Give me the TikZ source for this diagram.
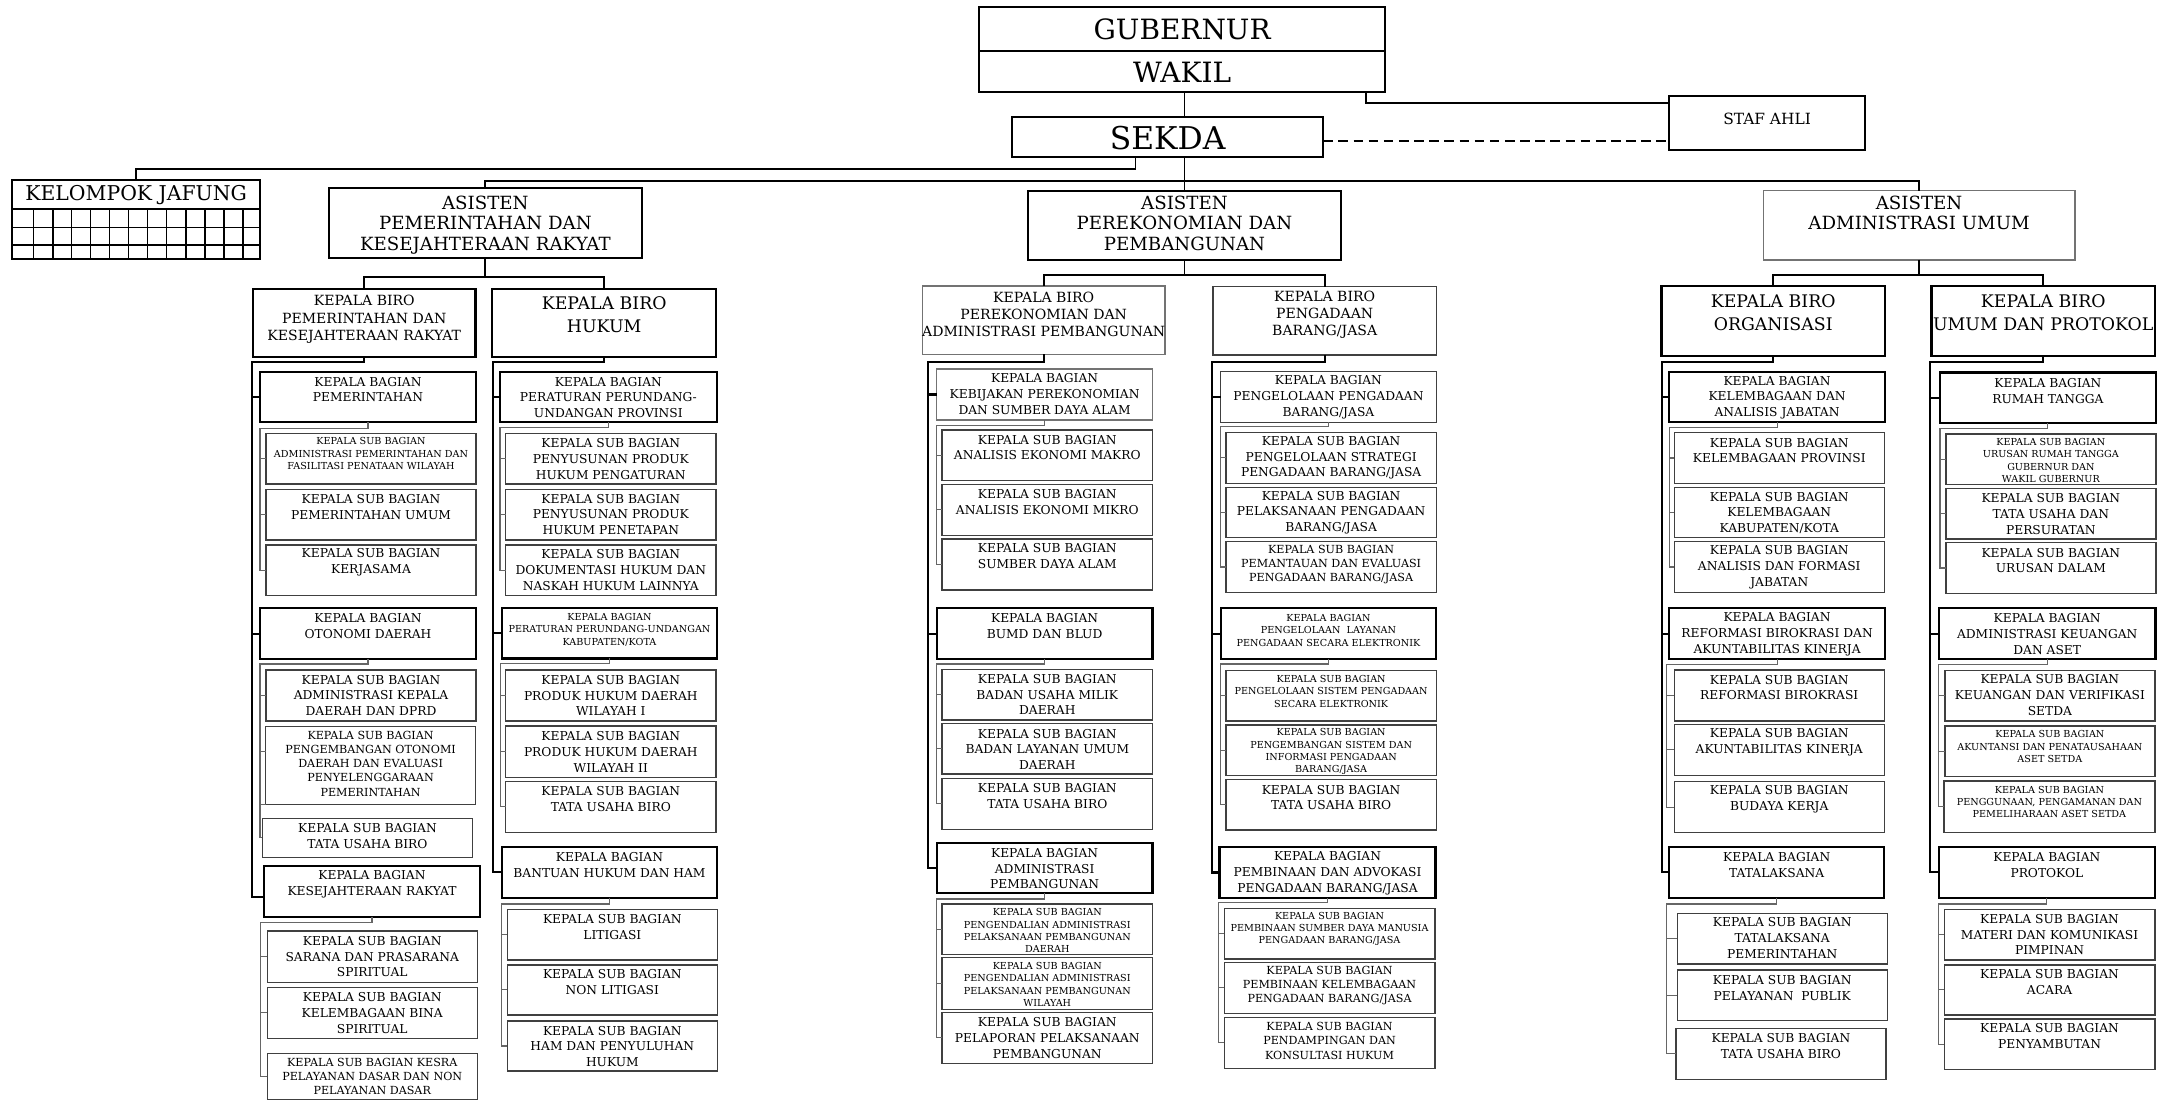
\documentclass[tikz,border=0pt]{standalone}
\usepackage{fontspec}
\setmainfont{DejaVu Serif}
\usetikzlibrary{calc}
\newcommand\fsS{\fontsize{8.9}{11.4}\selectfont}
\newcommand\fsT{\fontsize{7.0}{9.0}\selectfont}
\newcommand\fsM{\fontsize{8.1}{10.3}\selectfont}
\newcommand\fsB{\fontsize{10.2}{12.6}\selectfont}
\newcommand\fsL{\fontsize{12.6}{16.8}\selectfont}
\newcommand\fsA{\fontsize{13.2}{14.9}\selectfont}
\newcommand\fsG{\fontsize{20.3}{21}\selectfont}
\newcommand\fsK{\fontsize{22.8}{23}\selectfont}
\newcommand\fsJ{\fontsize{14.8}{16}\selectfont}
\newcommand\fsF{\fontsize{11.2}{12}\selectfont}
\newcommand\mybox[9]{%
  \node[#1, anchor=north west, minimum width={(#5)-(#3)}, minimum height={(#6)-(#4)}] (#2) at (#3,#4) {};
  \node[#7] (#2t) at ({((#3)+(#5))/2},#8) {#9};}
\newcommand\myconn[4]{\draw[#1] (#2.south) -- (#2.south |- #3) -- (#3) -- (#3 |- #4.west) -- (#4.west);}
\newcommand\mytick[3]{\draw[#1] (#2 |- #3.west) -- (#3.west);}
\tikzset{
  bK/.style={draw=black, line width=1.6pt, inner sep=0pt, outer sep=0pt},
  bT/.style={draw=black!75, line width=1pt, inner sep=0pt, outer sep=0pt},
  bG/.style={draw=black!55, line width=1pt, inner sep=0pt, outer sep=0pt},
  txt/.style={align=center, inner sep=0pt, outer sep=0pt, text=black},
  tS/.style={txt, font=\fsS}, tT/.style={txt, font=\fsT}, tM/.style={txt, font=\fsM},
  tB/.style={txt, font=\fsB}, tL/.style={txt, font=\fsL}, tA/.style={txt, font=\fsA},
  tG/.style={txt, font=\fsG}, tK/.style={txt, font=\fsK}, tJ/.style={txt, font=\fsJ},
  tF/.style={txt, font=\fsF},
  lnTop/.style={line width=1.3pt, black},
  lnSp/.style={line width=1.5pt, black},
  lnSub/.style={line width=0.8pt, black!60},
}
\begin{document}
\begin{tikzpicture}[x=1pt,y=-1pt]
\useasboundingbox (0,0) rectangle (1568,799);
% ---------- top ----------
\mybox{bK}{gub}{711}{5.3}{1006}{37}{tG}{21.5}{GUBERNUR}
\mybox{bK}{wakil}{711}{37}{1006}{67}{tG}{52.5}{WAKIL}
\mybox{bK}{sekda}{735}{85.2}{961}{113.8}{tK}{100}{SEKDA}
\mybox{bK}{staf}{1212}{69.5}{1354.7}{108.9}{tF}{86}{STAF AHLI}
\mybox{bK}{jafung}{8.8}{130.7}{189}{188.3}{tJ}{141.6}{KELOMPOK JAFUNG}
\draw[line width=1.2pt] (8.8,152) -- (189,152) (8.8,165.3) -- (189,165.3) (8.8,178) -- (189,178);
\foreach \gx in {24.3,38.3,51.9,65.8,79.4,93.4,107,120.9,134.9,149.1,162.7,176.7}
  \draw[line width=1.2pt] (\gx,152) -- (\gx,188.3);
\mybox{bK}{asPK}{239}{136.3}{466}{187.6}{tA}{163.5}{ASISTEN\\PEMERINTAHAN DAN\\KESEJAHTERAAN RAKYAT}
\mybox{bK}{asPP}{746.5}{138.5}{973.9}{188.8}{tA}{162.2}{ASISTEN\\PEREKONOMIAN DAN\\PEMBANGUNAN}
\mybox{bG}{asAU}{1280.6}{138.5}{1506.9}{188.8}{tA}{154.6}{ASISTEN\\ADMINISTRASI UMUM}
% ---------- biro ----------
\mybox{bK}{bPK}{183.8}{210}{345.3}{259}{tB}{232}{KEPALA BIRO\\PEMERINTAHAN DAN\\KESEJAHTERAAN RAKYAT}
\mybox{bK}{bHK}{357.6}{210}{520}{259}{tL}{228.3}{KEPALA BIRO\\HUKUM}
\mybox{bG}{bPE}{669.9}{207.7}{846.1}{257.3}{tB}{228.3}{KEPALA BIRO\\PEREKONOMIAN DAN\\ADMINISTRASI PEMBANGUNAN}
\mybox{bT}{bPB}{881}{208.2}{1043.1}{257.8}{tB}{228.5}{KEPALA BIRO\\PENGADAAN\\BARANG/JASA}
\mybox{bK}{bOR}{1206.7}{207.7}{1368.9}{258.5}{tL}{227}{KEPALA BIRO\\ORGANISASI}
\mybox{bK}{bUM}{1402.8}{207.7}{1565}{258.5}{tL}{227}{KEPALA BIRO\\UMUM DAN PROTOKOL}
% ---------- Pemerintahan & Kesra ----------
\mybox{bK}{pA}{188.8}{269.9}{345.7}{306.7}{tS}{282.9}{KEPALA BAGIAN\\PEMERINTAHAN}
\mybox{bT}{pA1}{193.2}{314.7}{345.7}{351.5}{tT}{329.4}{KEPALA SUB BAGIAN\\ADMINISTRASI PEMERINTAHAN DAN\\FASILITASI PENATAAN WILAYAH}
\mybox{bT}{pA2}{193.2}{355.4}{345.7}{392.2}{tS}{368}{KEPALA SUB BAGIAN\\PEMERINTAHAN UMUM}
\mybox{bT}{pA3}{193.2}{395.8}{345.7}{432.6}{tS}{408.3}{KEPALA SUB BAGIAN\\KERJASAMA}
\mybox{bK}{pB}{188.8}{441.8}{345.7}{478.6}{tS}{454.9}{KEPALA BAGIAN\\OTONOMI DAERAH}
\mybox{bT}{pB1}{193.2}{486.6}{345.7}{523.6}{tS}{505.1}{KEPALA SUB BAGIAN\\ADMINISTRASI KEPALA\\DAERAH DAN DPRD}
\mybox{bT}{pB2}{192.9}{527.7}{345.4}{584.1}{tM}{554.6}{KEPALA SUB BAGIAN\\PENGEMBANGAN OTONOMI\\DAERAH DAN EVALUASI\\PENYELENGGARAAN\\PEMERINTAHAN}
\mybox{bT}{pB3}{190.5}{594.3}{343.3}{622.6}{tS}{607}{KEPALA SUB BAGIAN\\TATA USAHA BIRO}
\mybox{bK}{pC}{191.7}{628.7}{348.6}{665.7}{tS}{642.1}{KEPALA BAGIAN\\KESEJAHTERAAN RAKYAT}
\mybox{bT}{pC1}{194.1}{676.1}{346.6}{713.4}{tS}{694.8}{KEPALA SUB BAGIAN\\SARANA DAN PRASARANA\\SPIRITUAL}
\mybox{bT}{pC2}{194.1}{717}{346.6}{754.1}{tS}{735.7}{KEPALA SUB BAGIAN\\KELEMBAGAAN BINA\\SPIRITUAL}
\mybox{bT}{pC3}{194.1}{765}{346.6}{798.3}{tM}{781.8}{KEPALA SUB BAGIAN KESRA\\PELAYANAN DASAR DAN NON\\PELAYANAN DASAR}
% ---------- Hukum ----------
\mybox{bK}{hA}{363.1}{269.9}{520.5}{306.7}{tS}{288.7}{KEPALA BAGIAN\\PERATURAN PERUNDANG-\\UNDANGAN PROVINSI}
\mybox{bT}{hA1}{367.2}{314.7}{520}{351.5}{tS}{333.3}{KEPALA SUB BAGIAN\\PENYUSUNAN PRODUK\\HUKUM PENGATURAN}
\mybox{bT}{hA2}{367.2}{355.4}{520}{392.2}{tS}{373.6}{KEPALA SUB BAGIAN\\PENYUSUNAN PRODUK\\HUKUM PENETAPAN}
\mybox{bT}{hA3}{367.2}{395.8}{520}{432.6}{tS}{414}{KEPALA SUB BAGIAN\\DOKUMENTASI HUKUM DAN\\NASKAH HUKUM LAINNYA}
\mybox{bK}{hB}{364.3}{441.8}{521}{478.2}{tT}{457.2}{KEPALA BAGIAN\\PERATURAN PERUNDANG-UNDANGAN\\KABUPATEN/KOTA}
\mybox{bT}{hB1}{367.2}{486.6}{520}{523.6}{tS}{505.1}{KEPALA SUB BAGIAN\\PRODUK HUKUM DAERAH\\WILAYAH I}
\mybox{bT}{hB2}{367.2}{527.2}{520}{564.5}{tS}{546.1}{KEPALA SUB BAGIAN\\PRODUK HUKUM DAERAH\\WILAYAH II}
\mybox{bT}{hB3}{367.2}{567.7}{520}{604.4}{tS}{580.3}{KEPALA SUB BAGIAN\\TATA USAHA BIRO}
\mybox{bK}{hC}{364.3}{614.9}{521}{651.9}{tS}{628.4}{KEPALA BAGIAN\\BANTUAN HUKUM DAN HAM}
\mybox{bT}{hC1}{368.4}{660.4}{521}{697.2}{tS}{673.3}{KEPALA SUB BAGIAN\\LITIGASI}
\mybox{bT}{hC2}{368.4}{700.8}{521}{737.1}{tS}{713.3}{KEPALA SUB BAGIAN\\NON LITIGASI}
\mybox{bT}{hC3}{368.4}{741.5}{521}{777.8}{tS}{760}{KEPALA SUB BAGIAN\\HAM DAN PENYULUHAN\\HUKUM}
% ---------- Perekonomian ----------
\mybox{bG}{eA}{680.3}{268}{837}{305}{tS}{286.2}{KEPALA BAGIAN\\KEBIJAKAN PEREKONOMIAN\\DAN SUMBER DAYA ALAM}
\mybox{bT}{eA1}{684.2}{312.3}{837}{349.1}{tS}{325}{KEPALA SUB BAGIAN\\ANALISIS EKONOMI MAKRO}
\mybox{bT}{eA2}{684.2}{351.7}{837}{389}{tS}{364.7}{KEPALA SUB BAGIAN\\ANALISIS EKONOMI MIKRO}
\mybox{bT}{eA3}{684.2}{391.4}{837}{428.5}{tS}{404}{KEPALA SUB BAGIAN\\SUMBER DAYA ALAM}
\mybox{bK}{eB}{680.3}{441.8}{837}{478.8}{tS}{454.9}{KEPALA BAGIAN\\BUMD DAN BLUD}
\mybox{bT}{eB1}{684.2}{486.1}{837}{522.9}{tS}{504.5}{KEPALA SUB BAGIAN\\BADAN USAHA MILIK\\DAERAH}
\mybox{bT}{eB2}{684.2}{525.3}{837}{562.1}{tS}{544.1}{KEPALA SUB BAGIAN\\BADAN LAYANAN UMUM\\DAERAH}
\mybox{bT}{eB3}{684.2}{565.2}{837}{602.3}{tS}{578}{KEPALA SUB BAGIAN\\TATA USAHA BIRO}
\mybox{bK}{eC}{680.3}{612}{837}{648.8}{tS}{631}{KEPALA BAGIAN\\ADMINISTRASI\\PEMBANGUNAN}
\mybox{bT}{eC1}{684.2}{656.5}{837}{693}{tT}{676}{KEPALA SUB BAGIAN\\PENGENDALIAN ADMINISTRASI\\PELAKSANAAN PEMBANGUNAN\\DAERAH}
\mybox{bT}{eC2}{684.2}{695.5}{837}{733}{tT}{715}{KEPALA SUB BAGIAN\\PENGENDALIAN ADMINISTRASI\\PELAKSANAAN PEMBANGUNAN\\WILAYAH}
\mybox{bT}{eC3}{684.2}{735.2}{837}{772.2}{tS}{754}{KEPALA SUB BAGIAN\\PELAPORAN PELAKSANAAN\\PEMBANGUNAN}
% ---------- Pengadaan ----------
\mybox{bT}{gA}{886.5}{269.9}{1043.1}{306.7}{tS}{288.4}{KEPALA BAGIAN\\PENGELOLAAN PENGADAAN\\BARANG/JASA}
\mybox{bT}{gA1}{890.4}{314}{1043.1}{351}{tS}{332.6}{KEPALA SUB BAGIAN\\PENGELOLAAN STRATEGI\\PENGADAAN BARANG/JASA}
\mybox{bT}{gA2}{890.4}{353.9}{1043.1}{390.5}{tS}{372.3}{KEPALA SUB BAGIAN\\PELAKSANAAN PENGADAAN\\BARANG/JASA}
\mybox{bT}{gA3}{890.4}{393.4}{1043.1}{430.2}{tM}{410}{KEPALA SUB BAGIAN\\PEMANTAUAN DAN EVALUASI\\PENGADAAN BARANG/JASA}
\mybox{bK}{gB}{886.5}{441.8}{1043.1}{478.8}{tT}{457.8}{KEPALA BAGIAN\\PENGELOLAAN\ \ LAYANAN\\PENGADAAN SECARA ELEKTRONIK}
\mybox{bT}{gB1}{890.4}{487.1}{1043.1}{523.6}{tT}{502.1}{KEPALA SUB BAGIAN\\PENGELOLAAN SISTEM PENGADAAN\\SECARA ELEKTRONIK}
\mybox{bT}{gB2}{890.4}{526.5}{1043.1}{563.3}{tT}{545.9}{KEPALA SUB BAGIAN\\PENGEMBANGAN SISTEM DAN\\INFORMASI PENGADAAN\\BARANG/JASA}
\mybox{bT}{gB3}{890.4}{566}{1043.1}{602.8}{tS}{579.2}{KEPALA SUB BAGIAN\\TATA USAHA BIRO}
\mybox{bK}{gC}{885.7}{614.9}{1042.6}{652.4}{tS}{634.2}{KEPALA BAGIAN\\PEMBINAAN DAN ADVOKASI\\PENGADAAN BARANG/JASA}
\mybox{bT}{gC1}{889.1}{659.7}{1042.1}{696.5}{tT}{674.7}{KEPALA SUB BAGIAN\\PEMBINAAN SUMBER DAYA MANUSIA\\PENGADAAN BARANG/JASA}
\mybox{bT}{gC2}{889.1}{698.9}{1042.1}{735.9}{tM}{715.7}{KEPALA SUB BAGIAN\\PEMBINAAN KELEMBAGAAN\\PENGADAAN BARANG/JASA}
\mybox{bT}{gC3}{889.1}{738.8}{1042.1}{775.8}{tM}{755.9}{KEPALA SUB BAGIAN\\PENDAMPINGAN DAN\\KONSULTASI HUKUM}
% ---------- Organisasi ----------
\mybox{bK}{oA}{1212.3}{269.9}{1368.9}{306.7}{tS}{288.7}{KEPALA BAGIAN\\KELEMBAGAAN DAN\\ANALISIS JABATAN}
\mybox{bT}{oA1}{1216}{314.2}{1368.4}{351}{tS}{327.2}{KEPALA SUB BAGIAN\\KELEMBAGAAN PROVINSI}
\mybox{bT}{oA2}{1216}{353.9}{1368.4}{390.5}{tS}{372.4}{KEPALA SUB BAGIAN\\KELEMBAGAAN\\KABUPATEN/KOTA}
\mybox{bT}{oA3}{1216}{393.4}{1368.4}{430.2}{tS}{411.9}{KEPALA SUB BAGIAN\\ANALISIS DAN FORMASI\\JABATAN}
\mybox{bK}{oB}{1212.3}{441.8}{1368.9}{478.6}{tS}{460.6}{KEPALA BAGIAN\\REFORMASI BIROKRASI DAN\\AKUNTABILITAS KINERJA}
\mybox{bT}{oB1}{1216}{486.6}{1368.4}{523.6}{tS}{499.3}{KEPALA SUB BAGIAN\\REFORMASI BIROKRASI}
\mybox{bT}{oB2}{1216}{526}{1368.4}{563.3}{tS}{539}{KEPALA SUB BAGIAN\\AKUNTABILITAS KINERJA}
\mybox{bT}{oB3}{1216}{567.7}{1368.4}{604.7}{tS}{580.3}{KEPALA SUB BAGIAN\\BUDAYA KERJA}
\mybox{bK}{oC}{1212.3}{614.9}{1368.4}{651.9}{tS}{628.4}{KEPALA BAGIAN\\TATALAKSANA}
\mybox{bT}{oC1}{1218.1}{663.3}{1370.6}{700.1}{tS}{681.2}{KEPALA SUB BAGIAN\\TATALAKSANA\\PEMERINTAHAN}
\mybox{bT}{oC2}{1218.1}{704.4}{1370.6}{741.2}{tS}{717.4}{KEPALA SUB BAGIAN\\PELAYANAN\ \ PUBLIK}
\mybox{bT}{oC3}{1217.1}{746.8}{1369.7}{783.8}{tS}{759.6}{KEPALA SUB BAGIAN\\TATA USAHA BIRO}
% ---------- Umum dan Protokol ----------
\mybox{bK}{uA}{1408.9}{270.6}{1565.7}{307.4}{tS}{283.9}{KEPALA BAGIAN\\RUMAH TANGGA}
\mybox{bT}{uA1}{1413.2}{315.2}{1565.7}{351.7}{tT}{334.4}{KEPALA SUB BAGIAN\\URUSAN RUMAH TANGGA\\GUBERNUR DAN\\WAKIL GUBERNUR}
\mybox{bT}{uA2}{1413.2}{354.6}{1565.7}{391.4}{tS}{373.2}{KEPALA SUB BAGIAN\\TATA USAHA DAN\\PERSURATAN}
\mybox{bT}{uA3}{1413.2}{394.1}{1565.7}{430.9}{tS}{407}{KEPALA SUB BAGIAN\\URUSAN DALAM}
\mybox{bK}{uB}{1408.1}{441.8}{1565.5}{478.6}{tS}{460.6}{KEPALA BAGIAN\\ADMINISTRASI KEUANGAN\\DAN ASET}
\mybox{bT}{uB1}{1412.5}{487.1}{1565}{523.6}{tS}{504.8}{KEPALA SUB BAGIAN\\KEUANGAN DAN VERIFIKASI\\SETDA}
\mybox{bT}{uB2}{1412.5}{527.2}{1565}{564}{tT}{542.4}{KEPALA SUB BAGIAN\\AKUNTANSI DAN PENATAUSAHAAN\\ASET SETDA}
\mybox{bT}{uB3}{1411.8}{567.2}{1565}{604.4}{tT}{582.4}{KEPALA SUB BAGIAN\\PENGGUNAAN, PENGAMANAN DAN\\PEMELIHARAAN ASET SETDA}
\mybox{bK}{uC}{1408.1}{614.9}{1565}{651.9}{tS}{628.4}{KEPALA BAGIAN\\PROTOKOL}
\mybox{bT}{uC1}{1412}{660.4}{1565}{697.2}{tS}{678.8}{KEPALA SUB BAGIAN\\MATERI DAN KOMUNIKASI\\PIMPINAN}
\mybox{bT}{uC2}{1412}{700.8}{1565}{737.1}{tS}{713.3}{KEPALA SUB BAGIAN\\ACARA}
\mybox{bT}{uC3}{1412}{740}{1565}{776.6}{tS}{752.6}{KEPALA SUB BAGIAN\\PENYAMBUTAN}
% ---------- top connectors ----------
\coordinate (bus) at (860.2,131.2);
\coordinate (jf) at (824.6,123);
\coordinate (sf) at (991.8,74.6);
\draw[lnTop] (asPP.north |- wakil.south) -- (asPP.north |- sekda.north);
\draw[lnTop] (asPP.north |- sekda.south) -- (asPP.north);
\draw[lnTop] (asPK.north) -- (asPK.north |- bus) -- (asAU.north |- bus) -- (asAU.north);
\draw[lnTop] (sekda.south -| jf) -- (jf) -- (jafung.north |- jf) -- (jafung.north);
\draw[lnTop] (wakil.south -| sf) -- (sf) -- (sf -| staf.west);
\draw[lnTop, dash pattern=on 7pt off 4pt] ($(sekda.east)+(0,2.7)$) -- ($(sekda.east -| staf.west)+(0,2.7)$);
% ---------- asisten to biro ----------
\coordinate (hPK) at (352.5,201);
\coordinate (hPP) at (860.2,199.7);
\coordinate (hAU) at (1393.7,199.7);
\draw[lnTop] (asPK.south) -- (asPK.south |- hPK);
\draw[lnTop] (bPK.north) -- (bPK.north |- hPK) -- (bHK.north |- hPK) -- (bHK.north);
\draw[lnTop] (asPP.south) -- (asPP.south |- hPP);
\draw[lnTop] (bPE.north) -- (bPE.north |- hPP) -- (bPB.north |- hPP) -- (bPB.north);
\draw[lnTop] (asAU.south) -- (asAU.south |- hAU);
\draw[lnTop] (bOR.north) -- (bOR.north |- hAU) -- (bUM.north |- hAU) -- (bUM.north);
% ---------- biro to bagian ----------
\coordinate (sPK) at (182.8,262.7);
\coordinate (sHK) at (358.3,262.7);
\coordinate (sPE) at (674.3,262.7);
\coordinate (sPB) at (880,262.7);
\coordinate (sOR) at (1206.8,262.7);
\coordinate (sUM) at (1401.4,262.7);
\draw[lnSp] (bPK.south) -- (bPK.south |- sPK) -- (sPK) -- ($(sPK |- pC.west)+(0,4.5)$) -- ($(pC.west)+(0,4.5)$);
\mytick{lnSp}{sPK}{pA}\mytick{lnSp}{sPK}{pB}
\myconn{lnSp}{bHK}{sHK}{hC}\mytick{lnSp}{sHK}{hA}\mytick{lnSp}{sHK}{hB}
\myconn{lnSp}{bPE}{sPE}{eC}\mytick{lnSp}{sPE}{eA}\mytick{lnSp}{sPE}{eB}
\myconn{lnSp}{bPB}{sPB}{gC}\mytick{lnSp}{sPB}{gA}\mytick{lnSp}{sPB}{gB}
\myconn{lnSp}{bOR}{sOR}{oC}\mytick{lnSp}{sOR}{oA}\mytick{lnSp}{sOR}{oB}
\myconn{lnSp}{bUM}{sUM}{uC}\mytick{lnSp}{sUM}{uA}\mytick{lnSp}{sUM}{uB}
% ---------- bagian to sub bagian ----------
\coordinate (cPA) at (188.8,311);   \coordinate (cPB) at (188.8,482.2); \coordinate (cPC) at (189.3,669.8);
\coordinate (cHA) at (363.1,310.5); \coordinate (cHB) at (363.3,481.7); \coordinate (cHC) at (364.3,656.5);
\coordinate (cEA) at (680.3,308.7); \coordinate (cEB) at (680.3,482.2); \coordinate (cEC) at (680.3,652.9);
\coordinate (cGA) at (886.5,309.9); \coordinate (cGB) at (886.5,482.2); \coordinate (cGC) at (885.2,655.5);
\coordinate (cOA) at (1212.3,310.5); \coordinate (cOB) at (1210.6,482.3); \coordinate (cOC) at (1210.6,656.5);
\coordinate (cUA) at (1408.9,311.5); \coordinate (cUB) at (1408.1,482.3); \coordinate (cUC) at (1408.1,656.5);
\myconn{lnSub}{pA}{cPA}{pA3}\mytick{lnSub}{cPA}{pA1}\mytick{lnSub}{cPA}{pA2}
\myconn{lnSub}{pB}{cPB}{pB3}\mytick{lnSub}{cPB}{pB1}
\draw[lnSub] ($(cPB |- pB2.west)+(0,-10)$) -- ($(pB2.west)+(0,-10)$);
\draw[lnSub] (cPB |- pB2.south west) -- (pB2.south west);
\myconn{lnSub}{pC}{cPC}{pC3}\mytick{lnSub}{cPC}{pC1}\mytick{lnSub}{cPC}{pC2}
\myconn{lnSub}{hA}{cHA}{hA3}\mytick{lnSub}{cHA}{hA1}\mytick{lnSub}{cHA}{hA2}
\myconn{lnSub}{hB}{cHB}{hB3}\mytick{lnSub}{cHB}{hB1}\mytick{lnSub}{cHB}{hB2}
\myconn{lnSub}{hC}{cHC}{hC3}\mytick{lnSub}{cHC}{hC1}\mytick{lnSub}{cHC}{hC2}
\myconn{lnSub}{eA}{cEA}{eA3}\mytick{lnSub}{cEA}{eA1}\mytick{lnSub}{cEA}{eA2}
\myconn{lnSub}{eB}{cEB}{eB3}\mytick{lnSub}{cEB}{eB1}\mytick{lnSub}{cEB}{eB2}
\myconn{lnSub}{eC}{cEC}{eC3}\mytick{lnSub}{cEC}{eC1}\mytick{lnSub}{cEC}{eC2}
\myconn{lnSub}{gA}{cGA}{gA3}\mytick{lnSub}{cGA}{gA1}\mytick{lnSub}{cGA}{gA2}
\myconn{lnSub}{gB}{cGB}{gB3}\mytick{lnSub}{cGB}{gB1}\mytick{lnSub}{cGB}{gB2}
\myconn{lnSub}{gC}{cGC}{gC3}\mytick{lnSub}{cGC}{gC1}\mytick{lnSub}{cGC}{gC2}
\myconn{lnSub}{oA}{cOA}{oA3}\mytick{lnSub}{cOA}{oA1}\mytick{lnSub}{cOA}{oA2}
\myconn{lnSub}{oB}{cOB}{oB3}\mytick{lnSub}{cOB}{oB1}\mytick{lnSub}{cOB}{oB2}
\myconn{lnSub}{oC}{cOC}{oC3}\mytick{lnSub}{cOC}{oC1}\mytick{lnSub}{cOC}{oC2}
\myconn{lnSub}{uA}{cUA}{uA3}\mytick{lnSub}{cUA}{uA1}\mytick{lnSub}{cUA}{uA2}
\myconn{lnSub}{uB}{cUB}{uB3}\mytick{lnSub}{cUB}{uB1}\mytick{lnSub}{cUB}{uB2}
\myconn{lnSub}{uC}{cUC}{uC3}\mytick{lnSub}{cUC}{uC1}\mytick{lnSub}{cUC}{uC2}
\end{tikzpicture}
\end{document}
